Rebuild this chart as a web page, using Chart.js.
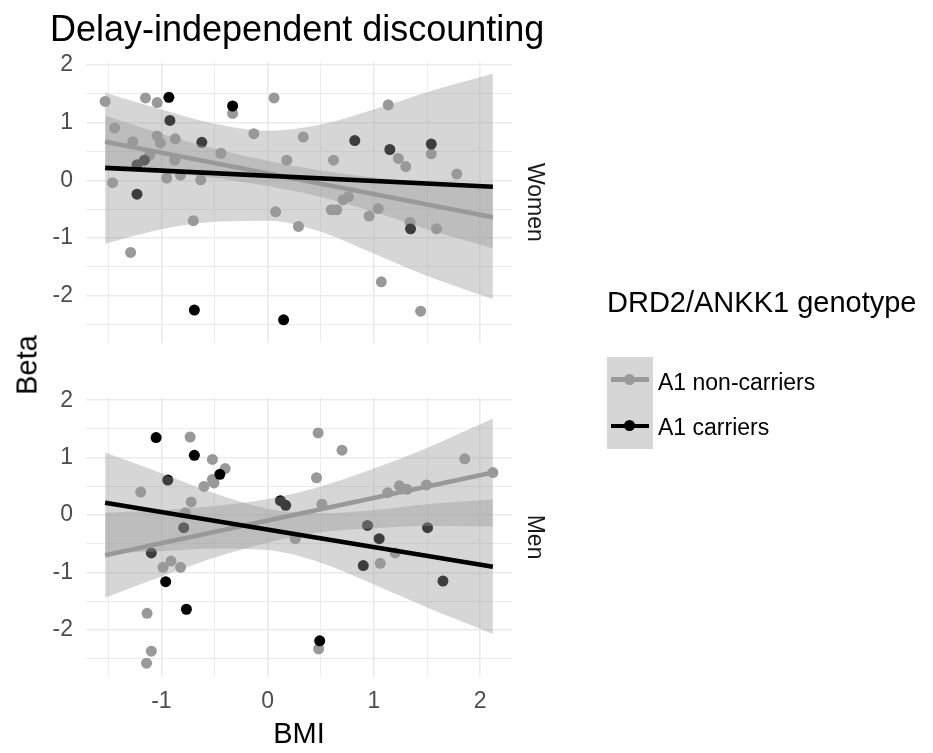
<!DOCTYPE html>
<html>
<head>
<meta charset="utf-8">
<script src="https://cdn.jsdelivr.net/npm/chart.js@4.4.1/dist/chart.umd.min.js"></script>
<style>
  body { margin: 0; background: #fff; font-family: "Liberation Sans", Arial, sans-serif; }
  #wrap { position: relative; width: 933px; height: 753px; overflow: hidden; background: #fff; }
  canvas { position: absolute; left: 0; }
  #c1 { top: 0; }
  #c2 { top: 370px; }
  .txt { position: absolute; white-space: nowrap; line-height: 1; color: #000; }
  #title { left: 50px; top: 10.5px; font-size: 36px; }
  #ylab { left: 27px; top: 365px; font-size: 29px; transform: translate(-50%, -50%) rotate(-90deg); }
  #legTitle { left: 607px; top: 288px; font-size: 29px; }
  .legLab { left: 658px; font-size: 23px; }
  .keyBox { position: absolute; left: 607px; top: 357px; width: 46px; height: 92px; background: #d6d6d6; }
  .keyLine { position: absolute; left: 611px; width: 38px; height: 4.5px; }
  .keyDot { position: absolute; width: 11px; height: 11px; border-radius: 50%; }
</style>
</head>
<body>
<div id="wrap">
  <canvas id="c1" width="933" height="370"></canvas>
  <canvas id="c2" width="933" height="383"></canvas>
  <div class="txt" id="title">Delay-independent discounting</div>
  <div class="txt" id="ylab">Beta</div>
  <div class="txt" id="legTitle">DRD2/ANKK1 genotype</div>
  <div class="keyBox"></div>
  <div class="keyLine" style="top:377px;background:#999999"></div>
  <div class="keyDot" style="left:624px;top:373.8px;background:#999999"></div>
  <div class="keyLine" style="top:423.5px;background:#000000"></div>
  <div class="keyDot" style="left:624px;top:420.2px;background:#000000"></div>
  <div class="txt legLab" style="top:370.5px">A1 non-carriers</div>
  <div class="txt legLab" style="top:415.5px">A1 carriers</div>
</div>
<script>
// axis ticks (major + minor grid)
const xTicks = [-1.5, -1, -0.5, 0, 0.5, 1, 1.5, 2];
const yTicks = [-2.5, -2, -1.5, -1, -0.5, 0, 0.5, 1, 1.5, 2];

// Women: A1 non-carriers
const womenNonX = [-1.53, -1.15, -1.04, -0.33, 0.06, -1.44, -1.27, -1.04, -1.01, -0.87, -0.13, -0.44, -1.11, -0.875, 0.18, -1.46, -0.95, -0.82, -0.63, 0.075, -0.70, 0.29, -1.29, 0.335, 0.62, 1.135, 1.23, 1.30, 1.54, 1.78, 0.71, 0.76, 0.60, 0.65, 0.955, 1.04, 1.34, 1.59, 1.07, 1.44];
const womenNonY = [1.37, 1.43, 1.35, 1.16, 1.43, 0.91, 0.67, 0.77, 0.65, 0.72, 0.81, 0.47, 0.44, 0.35, 0.35, -0.04, 0.04, 0.09, 0.01, -0.545, -0.70, -0.80, -1.25, 0.75, 0.35, 1.31, 0.38, 0.24, 0.46, 0.11, -0.34, -0.285, -0.51, -0.51, -0.62, -0.49, -0.73, -0.84, -1.76, -2.27];
// Women: A1 carriers
const womenCarX = [-0.93, -0.92, -0.33, -0.62, -1.16, -1.23, -1.23, -0.69, 0.15, 0.82, 1.15, 1.54, 1.345];
const womenCarY = [1.44, 1.04, 1.29, 0.66, 0.35, 0.27, -0.24, -2.25, -2.42, 0.69, 0.535, 0.63, -0.84];

// Men: A1 non-carriers
const menNonX = [-0.73, -0.52, -0.40, -0.52, -0.505, -0.60, -1.195, -0.72, -0.775, 0.26, -0.985, -0.91, -0.82, -1.135, -1.095, -1.14, 0.475, 0.70, 0.46, 0.51, 1.20, 1.06, 1.13, 1.24, 1.31, 1.495, 1.855, 2.12, 0.48];
const menNonY = [1.36, 0.97, 0.81, 0.62, 0.56, 0.50, 0.40, 0.23, 0.04, -0.41, -0.91, -0.80, -0.91, -1.71, -2.37, -2.58, 1.43, 1.13, 0.65, 0.19, -0.66, -0.84, 0.39, 0.51, 0.45, 0.525, 0.98, 0.74, -2.33];
// Men: A1 carriers
const menCarX = [-1.05, -0.69, -0.45, -0.94, -0.79, 0.12, 0.17, -1.095, -0.96, -0.765, 0.94, 1.05, 0.90, 1.505, 1.65, 0.49];
const menCarY = [1.35, 1.04, 0.71, 0.61, -0.22, 0.25, 0.17, -0.66, -1.16, -1.64, -0.18, -0.41, -0.88, -0.22, -1.15, -2.19];

// fitted lines (end points) and confidence bands
const fitX = [-1.53, 2.12];
const womenNonFit = [0.67, -0.64];
const womenCarFit = [0.217, -0.11];
const menNonFit = [-0.70, 0.74];
const menCarFit = [0.215, -0.90];

const bandX = [-1.53, -1.0, -0.5, 0, 0.5, 1.0, 1.5, 2.12];
const womenNonUpper = [1.12, 0.81, 0.55, 0.34, 0.17, 0.05, -0.04, -0.12];
const womenNonLower = [0.22, 0.15, 0.04, -0.10, -0.29, -0.55, -0.85, -1.18];
const womenCarUpper = [1.52, 1.23, 0.98, 0.86, 0.97, 1.23, 1.53, 1.85];
const womenCarLower = [-1.10, -0.85, -0.72, -0.70, -0.89, -1.27, -1.66, -2.06];
const menNonUpper = [0.04, 0.09, 0.16, 0.28, 0.50, 0.81, 1.17, 1.68];
const menNonLower = [-1.44, -1.07, -0.74, -0.48, -0.30, -0.23, -0.19, -0.20];
const menCarUpper = [1.09, 0.73, 0.38, 0.11, 0.03, 0.09, 0.19, 0.27];
const menCarLower = [-0.66, -0.63, -0.58, -0.61, -0.83, -1.21, -1.61, -2.07];

const GREY = '#999999';
const RIBBON = 'rgba(153,153,153,0.4)';

Chart.defaults.font.family = '"Liberation Sans", Arial, sans-serif';

function pts(xs, ys) {
    return xs.map((x, i) => ({ x: x, y: ys[i] }));
}

// strip label on the right of each panel
const stripPlugin = {
    id: 'strip',
    afterDraw(chart, args, opts) {
        const ctx = chart.ctx;
        const area = chart.chartArea;
        ctx.save();
        ctx.translate(area.right + 22, (area.top + area.bottom) / 2);
        ctx.rotate(Math.PI / 2);
        ctx.fillStyle = '#1a1a1a';
        ctx.font = '23px "Liberation Sans", Arial, sans-serif';
        ctx.textAlign = 'center';
        ctx.textBaseline = 'middle';
        ctx.fillText(opts.text, 0, 0);
        ctx.restore();
    }
};

function gridWidth(ctx) {
    const v = ctx.tick ? ctx.tick.value : 0;
    return Number.isInteger(v) ? 1.6 : 1.0;
}

function buildPanel(canvasId, s) {
    const datasets = [
        { type: 'scatter', data: pts(s.nonX, s.nonY), pointRadius: 5.5, pointBackgroundColor: GREY, pointBorderWidth: 0, order: 11 },
        { type: 'scatter', data: pts(s.carX, s.carY), pointRadius: 5.5, pointBackgroundColor: '#000000', pointBorderWidth: 0, order: 10 },
        { type: 'line', data: pts(bandX, s.nonUp), borderColor: 'rgba(0,0,0,0)', borderWidth: 0, pointRadius: 0, fill: '+1', backgroundColor: RIBBON, cubicInterpolationMode: 'monotone', order: 8 },
        { type: 'line', data: pts(bandX, s.nonLo), borderColor: 'rgba(0,0,0,0)', borderWidth: 0, pointRadius: 0, fill: false, cubicInterpolationMode: 'monotone', order: 8 },
        { type: 'line', data: pts(fitX, s.nonFit), borderColor: GREY, borderWidth: 4.6, pointRadius: 0, fill: false, order: 7 },
        { type: 'line', data: pts(bandX, s.carUp), borderColor: 'rgba(0,0,0,0)', borderWidth: 0, pointRadius: 0, fill: '+1', backgroundColor: RIBBON, cubicInterpolationMode: 'monotone', order: 5 },
        { type: 'line', data: pts(bandX, s.carLo), borderColor: 'rgba(0,0,0,0)', borderWidth: 0, pointRadius: 0, fill: false, cubicInterpolationMode: 'monotone', order: 5 },
        { type: 'line', data: pts(fitX, s.carFit), borderColor: '#000000', borderWidth: 4.6, pointRadius: 0, fill: false, order: 1 }
    ];

    return new Chart(document.getElementById(canvasId), {
        type: 'scatter',
        data: { datasets: datasets },
        plugins: [stripPlugin],
        options: {
            responsive: false,
            animation: false,
            events: [],
            layout: { padding: s.padding },
            plugins: {
                legend: { display: false },
                tooltip: { enabled: false },
                strip: { text: s.strip }
            },
            scales: {
                x: {
                    type: 'linear',
                    min: -1.71,
                    max: 2.30,
                    afterBuildTicks: scale => { scale.ticks = xTicks.map(v => ({ value: v })); },
                    afterFit: scale => { scale.height = s.xHeight; },
                    grid: { color: '#ebebeb', lineWidth: gridWidth, drawTicks: false },
                    border: { display: false },
                    ticks: {
                        display: s.showX,
                        autoSkip: false,
                        maxRotation: 0,
                        padding: 11,
                        color: '#4d4d4d',
                        font: { size: 23 },
                        callback: v => Number.isInteger(v) ? v : ''
                    },
                    title: {
                        display: s.showX,
                        text: 'BMI',
                        color: '#000000',
                        font: { size: 29 },
                        padding: { top: 0, bottom: 1 }
                    }
                },
                y: {
                    type: 'linear',
                    min: -2.825,
                    max: 2.06,
                    afterBuildTicks: scale => { scale.ticks = yTicks.map(v => ({ value: v })); },
                    afterFit: scale => { scale.width = 86; },
                    grid: { color: '#ebebeb', lineWidth: gridWidth, drawTicks: false },
                    border: { display: false },
                    ticks: {
                        autoSkip: false,
                        padding: 13,
                        color: '#4d4d4d',
                        font: { size: 23 },
                        callback: v => Number.isInteger(v) ? v : ''
                    }
                }
            }
        }
    });
}

buildPanel('c1', {
    nonX: womenNonX, nonY: womenNonY, carX: womenCarX, carY: womenCarY,
    nonUp: womenNonUpper, nonLo: womenNonLower, carUp: womenCarUpper, carLo: womenCarLower,
    nonFit: womenNonFit, carFit: womenCarFit,
    strip: 'Women', showX: false, xHeight: 0,
    padding: { top: 61.6, right: 421, bottom: 7, left: 0 }
});

buildPanel('c2', {
    nonX: menNonX, nonY: menNonY, carX: menCarX, carY: menCarY,
    nonUp: menNonUpper, nonLo: menNonLower, carUp: menCarUpper, carLo: menCarLower,
    nonFit: menNonFit, carFit: menCarFit,
    strip: 'Men', showX: true, xHeight: 75.7,
    padding: { top: 5.6, right: 421, bottom: 0, left: 0 }
});
</script>
</body>
</html>
